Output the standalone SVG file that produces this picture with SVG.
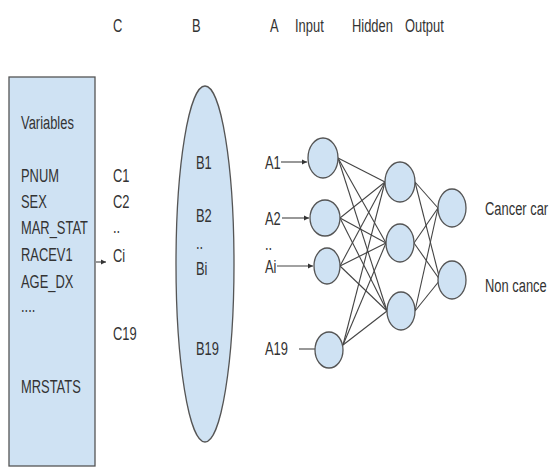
<svg xmlns="http://www.w3.org/2000/svg" width="550" height="468" viewBox="0 0 550 468">
<style>
text{font-family:"Liberation Sans",Arial,sans-serif;font-size:19px;fill:#333}
.shape{fill:#cfe2f3;stroke:#555;stroke-width:1.3}
.edge{stroke:#444;stroke-width:1.1;fill:none}
</style>
<defs>
<marker id="ah" markerWidth="6" markerHeight="6" refX="5" refY="3" orient="auto" markerUnits="userSpaceOnUse">
<path d="M0,0.5 L5,3 L0,5.5 Z" fill="#333"/>
</marker>
</defs>
<rect width="550" height="468" fill="#fff"/>
<g id="headers">
<text transform="translate(113,32) scale(0.68,1)">C</text>
<text transform="translate(192,32) scale(0.68,1)">B</text>
<text transform="translate(270,32) scale(0.68,1)">A</text>
<text transform="translate(295,32) scale(0.68,1)">Input</text>
<text transform="translate(352,32) scale(0.68,1)">Hidden</text>
<text transform="translate(405,32) scale(0.68,1)">Output</text>
</g>
<g id="variables">
<rect class="shape" x="9" y="77" width="86" height="389"/>
<text transform="translate(21,129) scale(0.68,1)">Variables</text>
<text transform="translate(21,182) scale(0.68,1)">PNUM</text>
<text transform="translate(21,208) scale(0.68,1)">SEX</text>
<text transform="translate(21,234) scale(0.68,1)">MAR_STAT</text>
<text transform="translate(21,261) scale(0.68,1)">RACEV1</text>
<text transform="translate(21,288) scale(0.68,1)">AGE_DX</text>
<text transform="translate(21,312) scale(0.68,1)">....</text>
<text transform="translate(21,393) scale(0.68,1)">MRSTATS</text>
</g>
<g id="c-column">
<text transform="translate(113,182) scale(0.68,1)">C1</text>
<text transform="translate(113,208) scale(0.68,1)">C2</text>
<text transform="translate(113,233) scale(0.68,1)">..</text>
<text transform="translate(113,262) scale(0.68,1)">Ci</text>
<text transform="translate(113,340) scale(0.68,1)">C19</text>
</g>
<g id="b-ellipse">
<ellipse class="shape" cx="205" cy="264" rx="29" ry="178"/>
<text transform="translate(196,169) scale(0.68,1)">B1</text>
<text transform="translate(196,222) scale(0.68,1)">B2</text>
<text transform="translate(196,249) scale(0.68,1)">..</text>
<text transform="translate(196,275) scale(0.68,1)">Bi</text>
<text transform="translate(196,355) scale(0.68,1)">B19</text>
</g>
<g id="a-labels">
<text transform="translate(265,169) scale(0.68,1)">A1</text>
<text transform="translate(265,225) scale(0.68,1)">A2</text>
<text transform="translate(265,250) scale(0.68,1)">..</text>
<text transform="translate(265,273) scale(0.68,1)">Ai</text>
<text transform="translate(265,355) scale(0.68,1)">A19</text>
</g>
<g id="connectors">
<line class="edge" x1="96" y1="262" x2="106" y2="262" marker-end="url(#ah)"/>
<line class="edge" x1="281" y1="162" x2="307" y2="162" marker-end="url(#ah)"/>
<line class="edge" x1="282" y1="218" x2="309" y2="218" marker-end="url(#ah)"/>
<line class="edge" x1="277" y1="266" x2="313" y2="266" marker-end="url(#ah)"/>
<line class="edge" x1="299" y1="349" x2="315" y2="349"/>
<line class="edge" x1="338" y1="158" x2="385" y2="182"/>
<line class="edge" x1="338" y1="158" x2="386" y2="243"/>
<line class="edge" x1="338" y1="158" x2="387" y2="311"/>
<line class="edge" x1="340" y1="218" x2="385" y2="182"/>
<line class="edge" x1="340" y1="218" x2="386" y2="243"/>
<line class="edge" x1="340" y1="218" x2="387" y2="311"/>
<line class="edge" x1="340" y1="266" x2="385" y2="182"/>
<line class="edge" x1="340" y1="266" x2="386" y2="243"/>
<line class="edge" x1="340" y1="266" x2="387" y2="311"/>
<line class="edge" x1="343" y1="345" x2="385" y2="182"/>
<line class="edge" x1="343" y1="345" x2="386" y2="243"/>
<line class="edge" x1="343" y1="345" x2="387" y2="311"/>
<line class="edge" x1="415" y1="182" x2="438" y2="208"/>
<line class="edge" x1="415" y1="182" x2="440" y2="280"/>
<line class="edge" x1="414" y1="243" x2="438" y2="208"/>
<line class="edge" x1="414" y1="243" x2="440" y2="280"/>
<line class="edge" x1="415" y1="311" x2="438" y2="208"/>
<line class="edge" x1="415" y1="311" x2="440" y2="280"/>
</g>
<g id="input-layer">
<ellipse class="shape" cx="323" cy="158" rx="15" ry="20"/>
<ellipse class="shape" cx="325" cy="218" rx="15" ry="18"/>
<ellipse class="shape" cx="327" cy="266" rx="13" ry="18"/>
<ellipse class="shape" cx="329" cy="350" rx="14" ry="18"/>
</g>
<g id="hidden-layer">
<ellipse class="shape" cx="400" cy="182" rx="15" ry="20"/>
<ellipse class="shape" cx="400" cy="243" rx="14" ry="19"/>
<ellipse class="shape" cx="401" cy="311" rx="14" ry="19"/>
</g>
<g id="output-layer">
<ellipse class="shape" cx="452" cy="208" rx="14" ry="19"/>
<ellipse class="shape" cx="452" cy="280" rx="14" ry="19"/>
<text transform="translate(485,215) scale(0.68,1)">Cancer car</text>
<text transform="translate(485,292) scale(0.68,1)">Non cance</text>
</g>
</svg>
